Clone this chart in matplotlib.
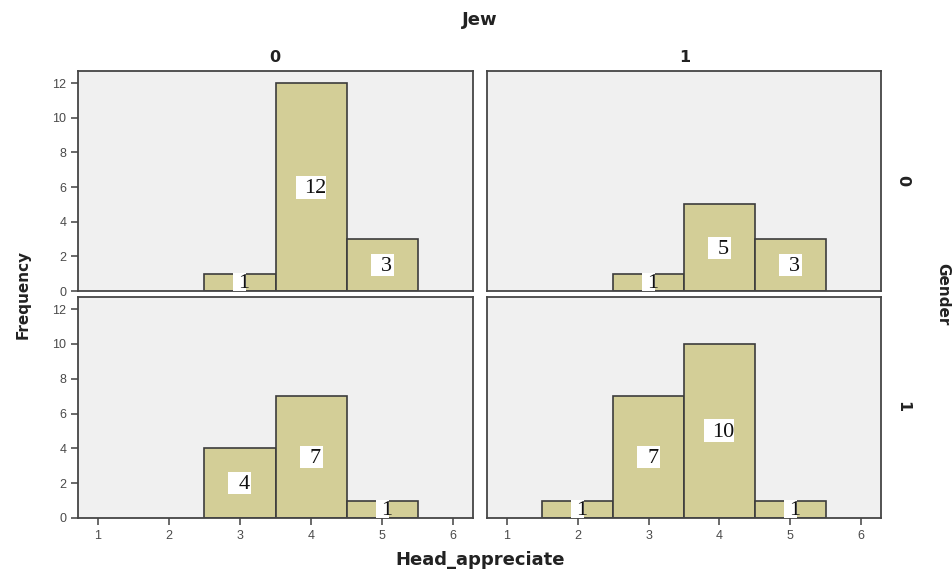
import matplotlib
matplotlib.use("Agg")
import matplotlib.pyplot as plt
from matplotlib.patches import Rectangle

# Data: Head_appreciate value -> frequency
jew_levels = ["0", "1"]
gender_levels = ["0", "1"]
g0_j0_x = [3, 4, 5]
g0_j0_y = [1, 12, 3]
g0_j1_x = [3, 4, 5]
g0_j1_y = [1, 5, 3]
g1_j0_x = [3, 4, 5]
g1_j0_y = [4, 7, 1]
g1_j1_x = [2, 3, 4, 5]
g1_j1_y = [1, 7, 10, 1]
x_ticks = [1, 2, 3, 4, 5, 6]
y_ticks = [0, 2, 4, 6, 8, 10, 12]

W, H = 953, 569
fig = plt.figure(figsize=(W / 100, H / 100), dpi=100)
fig.patch.set_facecolor("white")

def px_axes(x0, y0, x1, y1):
    return fig.add_axes([x0 / W, 1 - y1 / H, (x1 - x0) / W, (y1 - y0) / H])

cols = [(78, 473), (487, 881)]
rows = [(71, 291), (297, 518)]
data = {(0, 0): (g0_j0_x, g0_j0_y), (0, 1): (g0_j1_x, g0_j1_y),
        (1, 0): (g1_j0_x, g1_j0_y), (1, 1): (g1_j1_x, g1_j1_y)}

XLIM = (0.72, 6.28)
YLIM = (0, 12.7)
bar_color = "#D3CE97"
edge = "#3C3C3C"
for r in range(2):
    for c in range(2):
        x0, x1 = cols[c]
        y0, y1 = rows[r]
        ax = px_axes(x0, y0, x1, y1)
        ax.set_facecolor("#F0F0F0")
        xs, ys = data[(r, c)]
        ax.bar(xs, ys, width=1.0, color=bar_color, edgecolor=edge, linewidth=1.2, zorder=2)
        px_x = (x1 - x0) / (XLIM[1] - XLIM[0])
        px_y = (y1 - y0) / (YLIM[1] - YLIM[0])
        for xv, yv in zip(xs, ys):
            s = str(yv)
            if s == "1":
                wpx, hpx = 13, 18
            elif len(s) == 1:
                wpx, hpx = 23, 22
            else:
                wpx, hpx = 30, 23
            ax.add_patch(Rectangle((xv - wpx / 2 / px_x, yv / 2 - hpx / 2 / px_y),
                                   wpx / px_x, hpx / px_y, fc="white", ec="none", zorder=3))
            ax.annotate(s, (xv, yv / 2), xytext=(3, -1), textcoords="offset points",
                        ha="center", va="center", fontsize=16, family="Liberation Serif",
                        color="#111111", zorder=4)
        ax.set_xlim(*XLIM)
        ax.set_ylim(*YLIM)
        for sp in ax.spines.values():
            sp.set_color("#454545")
            sp.set_linewidth(1.3)
        ax.tick_params(colors="#505050", labelcolor="#4a4a4a", labelsize=9, length=5, width=1.2)
        ax.set_xticks(x_ticks)
        ax.set_yticks(y_ticks)
        if r == 0:
            ax.tick_params(axis="x", bottom=False, labelbottom=False)
        if c == 1:
            ax.tick_params(axis="y", left=False, labelleft=False)
        for lab in ax.get_xticklabels() + ax.get_yticklabels():
            lab.set_family("Liberation Sans")

bold = dict(fontweight="bold", color="#222222", family="DejaVu Sans")
fig.text(480 / W, 1 - 20 / H, "Jew", ha="center", va="center", fontsize=13, **bold)
fig.text(275 / W, 1 - 57 / H, jew_levels[0], ha="center", va="center", fontsize=11.5, **bold)
fig.text(685 / W, 1 - 57 / H, jew_levels[1], ha="center", va="center", fontsize=11.5, **bold)
fig.text(903 / W, 1 - 181 / H, gender_levels[0], ha="center", va="center", rotation=-90, fontsize=11.5, **bold)
fig.text(903 / W, 1 - 407 / H, gender_levels[1], ha="center", va="center", rotation=-90, fontsize=11.5, **bold)
fig.text(943 / W, 1 - 294 / H, "Gender", ha="center", va="center", rotation=-90, fontsize=11, **bold)
fig.text(23 / W, 1 - 294 / H, "Frequency", ha="center", va="center", rotation=90, fontsize=11, **bold)
fig.text(480 / W, 1 - 560 / H, "Head_appreciate", ha="center", va="center", fontsize=13, **bold)

fig.savefig("out.png", dpi=100)
